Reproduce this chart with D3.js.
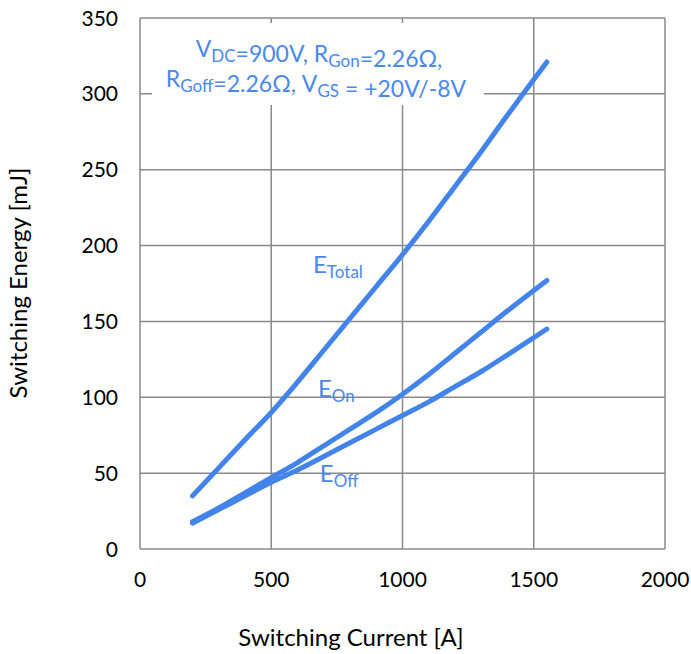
<!DOCTYPE html>
<html><head><meta charset="utf-8">
<script src="https://cdn.jsdelivr.net/npm/d3@7"></script>
<style>body{margin:0;background:#fff}svg{display:block}</style>
</head><body>
<svg id="chart" width="691" height="654"></svg>
<script>
const xTicks = [0, 500, 1000, 1500, 2000];
const yTicks = [0, 50, 100, 150, 200, 250, 300, 350];
const current = [200, 300, 400, 500, 600, 700, 800, 900, 1000, 1100, 1200, 1300, 1400, 1550];
const eTotal  = [35, 53.5, 72, 90, 110, 131, 152, 173, 194, 216, 239, 262, 286, 321];
const eOn     = [18, 27, 37, 47, 57, 68, 79, 90, 102, 115, 129, 143, 157, 177];
const eOff    = [17, 26, 35, 44, 52, 61, 70, 79, 88, 97, 107, 117, 128, 145];
const seriesLabels = [
  {main: "E", sub: "Total", x: 659, y: 182},
  {main: "E", sub: "On", x: 678, y: 100},
  {main: "E", sub: "Off", x: 685, y: 44}
];
const xTitle = "Switching Current [A]";
const yTitle = "Switching Energy [mJ]";

const svg = d3.select("#chart");
const x = d3.scaleLinear().domain([0, 2000]).range([140, 665]);
const y = d3.scaleLinear().domain([0, 350]).range([549, 18]);
const gridColor = "#8a8a8a";
const lineColor = "#4284ea";
const textBlue = "#4a88ec";
const font = "Lato, sans-serif";

// grid
const g = svg.append("g");
g.selectAll(".vg").data(xTicks).join("line")
  .attr("x1", d => x(d)).attr("x2", d => x(d))
  .attr("y1", y(0)).attr("y2", y(350))
  .attr("stroke", gridColor).attr("stroke-width", 1.5);
g.selectAll(".hg").data(yTicks).join("line")
  .attr("x1", x(0)).attr("x2", x(2000))
  .attr("y1", d => y(d)).attr("y2", d => y(d))
  .attr("stroke", gridColor).attr("stroke-width", 1.5);

// tick labels
svg.selectAll(".xt").data(xTicks).join("text")
  .attr("x", d => x(d)).attr("y", 587)
  .attr("text-anchor", "middle").attr("font-family", font).attr("font-size", 21)
  .attr("fill", "#000").text(d => d);
svg.selectAll(".yt").data(yTicks).join("text")
  .attr("x", 118).attr("y", d => y(d) + 7.5)
  .attr("text-anchor", "end").attr("font-family", font).attr("font-size", 21)
  .attr("fill", "#000").text(d => d);

// axis titles
svg.append("text").attr("x", 351).attr("y", 646)
  .attr("text-anchor", "middle").attr("font-family", font).attr("font-size", 24)
  .text(xTitle);
svg.append("text").attr("transform", "translate(27,283) rotate(-90)")
  .attr("text-anchor", "middle").attr("font-family", font).attr("font-size", 24)
  .text(yTitle);

// white annotation box
svg.append("rect").attr("x", 152).attr("y", 23).attr("width", 332).attr("height", 82)
  .attr("fill", "#fff");

const ann = svg.append("g").attr("font-family", font).attr("fill", textBlue);
function seg(t, s, sub) {
  if (sub) {
    t.append("tspan").attr("font-size", 17).attr("dy", 5).text(s);
    t.append("tspan").attr("dy", -5).text("");
  } else t.append("tspan").text(s);
}
const t1 = ann.append("text").attr("x", 319).attr("y", 57).attr("text-anchor", "middle").attr("font-size", 23);
seg(t1, "V"); seg(t1, "DC", true); seg(t1, "=900V, R"); seg(t1, "Gon", true); seg(t1, "=2.26Ω,");
const t2 = ann.append("text").attr("x", 316).attr("y", 87).attr("text-anchor", "middle").attr("font-size", 23);
seg(t2, "R"); seg(t2, "Goff", true); seg(t2, "=2.26Ω, V"); seg(t2, "GS", true); seg(t2, " = +20V/-8V");

// lines
const line = d3.line().x(d => x(d[0])).y(d => y(d[1])).curve(d3.curveCatmullRom.alpha(0.5));
const series = [d3.zip(current, eTotal), d3.zip(current, eOn), d3.zip(current, eOff)];
svg.selectAll(".ln").data(series).join("path")
  .attr("d", line).attr("fill", "none").attr("stroke", lineColor)
  .attr("stroke-width", 5).attr("stroke-linecap", "round").attr("stroke-linejoin", "round");

// series labels
seriesLabels.forEach(l => {
  const t = svg.append("text").attr("x", x(l.x)).attr("y", y(l.y))
    .attr("font-family", font).attr("font-size", 24).attr("fill", textBlue);
  t.append("tspan").text(l.main);
  t.append("tspan").attr("font-size", 17).attr("dy", 5).text(l.sub);
});
</script>
</body></html>
